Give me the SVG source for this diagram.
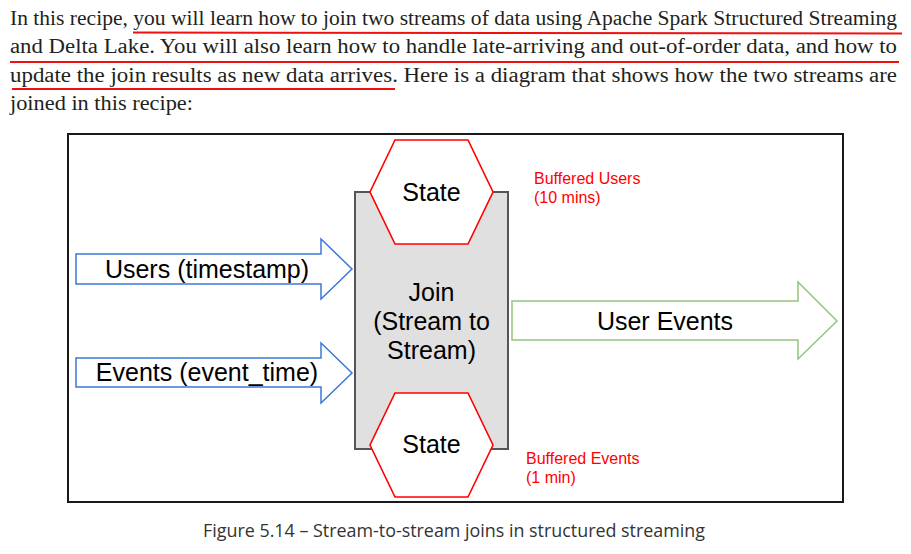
<svg xmlns="http://www.w3.org/2000/svg" width="911" height="554" viewBox="0 0 911 554">
<style>
.para{font-family:"Liberation Serif",serif;font-size:20px;fill:#231f20}
.ul{stroke:#ee1111;stroke-width:2;fill:none}
.lbl{font-family:"Liberation Sans",Arial,sans-serif;font-size:25px;fill:#000;text-anchor:middle}
.note{font-family:"Liberation Sans",Arial,sans-serif;font-size:16px;fill:#ff0000}
.hex{fill:#fff;stroke:#ff0000;stroke-width:1.6}
.inarrow{fill:#fff;stroke:#3c78d8;stroke-width:1.5}
.outarrow{fill:#fff;stroke:#93c47d;stroke-width:1.5}
.cap{font-family:"Open Sans","Liberation Sans",sans-serif;font-size:18px;fill:#333}
</style>
<rect width="911" height="554" fill="#fff"/>
<g id="paragraph">
<text class="para" x="10" y="25" textLength="887" lengthAdjust="spacingAndGlyphs">In this recipe, you will learn how to join two streams of data using Apache Spark Structured Streaming</text>
<text class="para" x="10" y="53" textLength="887" lengthAdjust="spacingAndGlyphs">and Delta Lake. You will also learn how to handle late-arriving and out-of-order data, and how to</text>
<text class="para" x="10" y="82" textLength="887" lengthAdjust="spacingAndGlyphs">update the join results as new data arrives. Here is a diagram that shows how the two streams are</text>
<text class="para" x="10" y="110" textLength="183" lengthAdjust="spacingAndGlyphs">joined in this recipe:</text>
<path class="ul" d="M133,32.5 L902,33.5"/>
<path class="ul" d="M10,62 L899,62"/>
<path class="ul" d="M12,89 L395,89"/>
</g>
<rect id="frame" x="68" y="134" width="775" height="368" fill="#fff" stroke="#1a1a1a" stroke-width="2"/>
<g id="join">
<rect x="355" y="192" width="153" height="257" fill="#e0e0e0" stroke="#555" stroke-width="2"/>
<text class="lbl" x="431.5" y="301">Join</text>
<text class="lbl" x="431.5" y="330">(Stream to</text>
<text class="lbl" x="431.5" y="359">Stream)</text>
</g>
<g id="state-users">
<polygon class="hex" points="395,140 468,140 493,192 468,244 395,244 370,192"/>
<text class="lbl" x="431.5" y="201">State</text>
</g>
<g id="state-events">
<polygon class="hex" points="395,393 468,393 493,445 468,497 395,497 370,445"/>
<text class="lbl" x="431.5" y="453">State</text>
</g>
<g id="note-users">
<text class="note" x="534" y="184">Buffered Users</text>
<text class="note" x="534" y="203">(10 mins)</text>
</g>
<g id="note-events">
<text class="note" x="526" y="464">Buffered Events</text>
<text class="note" x="526" y="483">(1 min)</text>
</g>
<g id="connectors">
<g id="users-arrow">
<polygon class="inarrow" points="76,254 321,254 321,239 352,269 321,299 321,284 76,284"/>
<text class="lbl" x="207" y="277.5">Users (timestamp)</text>
</g>
<g id="events-arrow">
<polygon class="inarrow" points="76,358 321,358 321,343 352,373 321,403 321,387 76,387"/>
<text class="lbl" x="207" y="381">Events (event_time)</text>
</g>
<g id="output-arrow">
<polygon class="outarrow" points="512,301 798,301 798,282 837,321 798,359 798,340 512,340"/>
<text class="lbl" x="665" y="330">User Events</text>
</g>
</g>
<text id="caption" class="cap" x="203" y="537" textLength="502" lengthAdjust="spacingAndGlyphs">Figure 5.14 – Stream-to-stream joins in structured streaming</text>
</svg>
